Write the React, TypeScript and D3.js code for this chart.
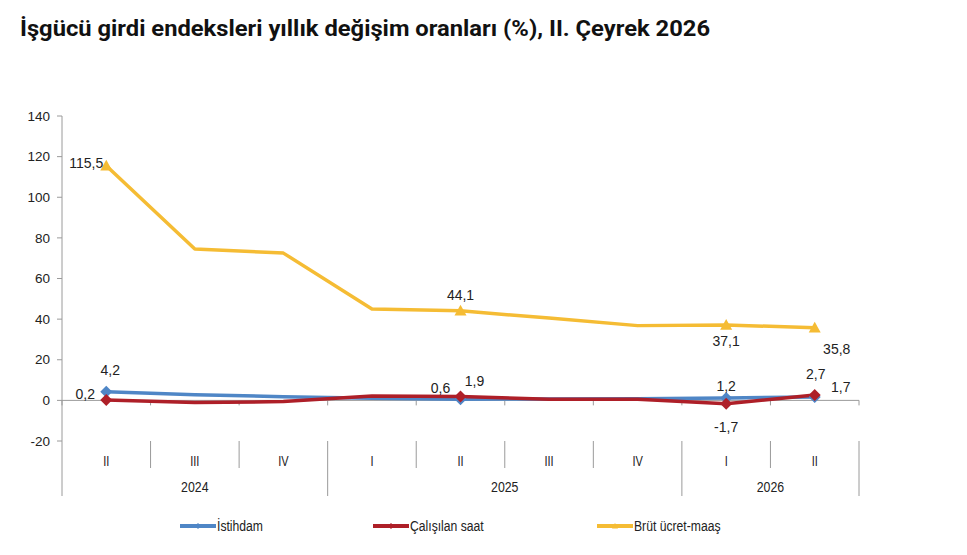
import * as d3 from "d3";

const quarters = ["II", "III", "IV", "I", "II", "III", "IV", "I", "II"];
const years = [
  { label: "2024", from: 0, to: 3 },
  { label: "2025", from: 3, to: 7 },
  { label: "2026", from: 7, to: 9 },
];
const istihdam = [4.2, 2.8, 1.8, 1.0, 0.6, 0.7, 0.8, 1.2, 1.7];
const calisilanSaat = [0.2, -1.1, -0.6, 2.1, 1.9, 0.6, 0.5, -1.7, 2.7];
const brutUcret = [115.5, 74.5, 72.5, 45.0, 44.1, 40.5, 36.8, 37.1, 35.8];
const yTicks = [-20, 0, 20, 40, 60, 80, 100, 120, 140];

// which points carry a marker + label, and where the label sits
const labelled = [0, 4, 7, 8];

type Series = {
  name: string;
  values: number[];
  color: string;
  marker: "diamond" | "triangle";
  labels: { [i: number]: [number, number] };
};

const series: Series[] = [
  {
    name: "İstihdam",
    values: istihdam,
    color: "#4F86C6",
    marker: "diamond",
    labels: { 0: [4, -22], 4: [-20, -11], 7: [0, -12], 8: [26, -10] },
  },
  {
    name: "Çalışılan saat",
    values: calisilanSaat,
    color: "#AE1F28",
    marker: "diamond",
    labels: { 0: [-21, -6], 4: [14, -15], 7: [0, 23], 8: [1, -21] },
  },
  {
    name: "Brüt ücret-maaş",
    values: brutUcret,
    color: "#F5BC34",
    marker: "triangle",
    labels: { 0: [-20, -3], 4: [0, -16], 7: [0, 16], 8: [22, 21] },
  },
];

const fmt = (v: number) => v.toFixed(1).replace(".", ",");

const Marker = ({ kind, x, y, color, r }: { kind: string; x: number; y: number; color: string; r: number }) =>
  kind === "diamond" ? (
    <path d={`M${x},${y - r}L${x + r},${y}L${x},${y + r}L${x - r},${y}Z`} fill={color} />
  ) : (
    <path d={`M${x},${y - r}L${x + r},${y + r * 0.8}L${x - r},${y + r * 0.8}Z`} fill={color} />
  );

export default function App() {
  const width = 967;
  const height = 555;
  const left = 62;
  const right = 859;
  const x = d3.scaleBand<number>().domain(d3.range(quarters.length)).range([left, right]).padding(0);
  const y = d3.scaleLinear().domain([-20, 140]).range([441, 116]);
  const bw = x.bandwidth();
  const cx = (i: number) => (x(i) as number) + bw / 2;
  const line = d3
    .line<number>()
    .x((_, i) => cx(i))
    .y((d) => y(d));

  const axisFont = "Liberation Sans, Arial, sans-serif";

  return (
    <svg width={width} height={height} style={{ position: "absolute", left: 0, top: 0, background: "#fff" }}>
      <text
        x={20}
        y={36}
        fontFamily="Roboto, sans-serif"
        fontWeight={700}
        fontSize={22.5}
        fill="#111"
        textLength={690}
        lengthAdjust="spacingAndGlyphs"
      >
        İşgücü girdi endeksleri yıllık değişim oranları (%), II. Çeyrek 2026
      </text>

      {/* y axis */}
      <line x1={left} x2={left} y1={116} y2={496} stroke="#9a9a9a" />
      {yTicks.map((t) => (
        <g key={t}>
          <line x1={left - 5} x2={left} y1={y(t)} y2={y(t)} stroke="#9a9a9a" />
          <text x={left - 12} y={y(t)} dy="0.35em" textAnchor="end" fontFamily={axisFont} fontSize={13.5} fill="#222">
            {t}
          </text>
        </g>
      ))}

      {/* zero line with ticks */}
      <line x1={left} x2={right} y1={y(0)} y2={y(0)} stroke="#9a9a9a" />
      {d3.range(quarters.length + 1).map((i) => {
        const xx = i < quarters.length ? (x(i) as number) : right;
        return <line key={i} x1={xx} x2={xx} y1={y(0)} y2={y(0) + 5} stroke="#9a9a9a" />;
      })}

      {/* category dividers */}
      {d3.range(1, quarters.length + 1).map((i) => {
        const xx = i < quarters.length ? (x(i) as number) : right;
        const isYear = years.some((yy) => yy.to === i);
        return <line key={i} x1={xx} x2={xx} y1={y(-20)} y2={isYear ? 496 : 468} stroke="#9a9a9a" />;
      })}
      {quarters.map((q, i) => (
        <text
          key={i}
          transform={`translate(${cx(i)},461) scale(0.85,1.1)`}
          dy="0.35em"
          textAnchor="middle"
          fontFamily={axisFont}
          fontSize={13}
          fill="#222"
        >
          {q}
        </text>
      ))}
      {years.map((yy) => (
        <text
          key={yy.label}
          transform={`translate(${((x(yy.from) as number) + (yy.to < quarters.length ? (x(yy.to) as number) : right)) / 2},487) scale(0.85,1.05)`}
          dy="0.35em"
          textAnchor="middle"
          fontFamily={axisFont}
          fontSize={14.5}
          fill="#222"
        >
          {yy.label}
        </text>
      ))}

      {/* series */}
      {series.map((s) => (
        <path key={s.name} d={line(s.values) ?? ""} fill="none" stroke={s.color} strokeWidth={3.5} strokeLinejoin="round" />
      ))}
      {series.map((s) => (
        <g key={s.name + "m"}>
          {labelled.map((i) => (
            <Marker key={i} kind={s.marker} x={cx(i)} y={y(s.values[i])} color={s.color} r={6} />
          ))}
        </g>
      ))}
      {series.map((s) => (
        <g key={s.name + "l"}>
          {labelled.map((i) => (
            <text
              key={i}
              x={cx(i) + s.labels[i][0]}
              y={y(s.values[i]) + s.labels[i][1]}
              dy="0.35em"
              textAnchor="middle"
              fontFamily={axisFont}
              fontSize={14}
              fill="#222"
            >
              {fmt(s.values[i])}
            </text>
          ))}
        </g>
      ))}

      {/* legend */}
      {series.map((s, k) => {
        const lx = [180, 373, 597][k];
        return (
          <g key={s.name + "lg"} transform={`translate(${lx},526)`}>
            <line x1={0} x2={36} y1={0} y2={0} stroke={s.color} strokeWidth={4} />
            <Marker kind={s.marker} x={18} y={0} color={s.color} r={3} />
            <text transform="translate(37,0) scale(0.87,1.05)" dy="0.35em" fontFamily={axisFont} fontSize={14} fill="#222">
              {s.name}
            </text>
          </g>
        );
      })}
    </svg>
  );
}
